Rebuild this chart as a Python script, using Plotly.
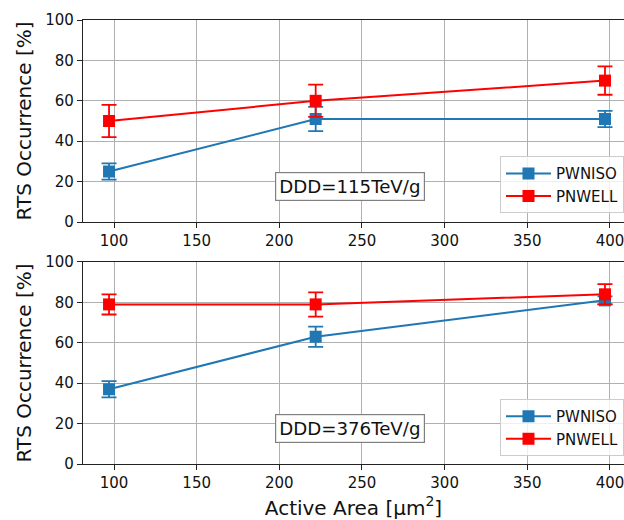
import plotly.graph_objects as go
from plotly.subplots import make_subplots

# ---- data ----
area = [97, 222, 397]
top_pwniso = [25, 51, 51]
top_pwniso_err = [4, 6, 4]
top_pnwell = [50, 60, 70]
top_pnwell_err = [8, 8, 7]
bot_pwniso = [37, 63, 81]
bot_pwniso_err = [4, 5, 2]
bot_pnwell = [79, 79, 84]
bot_pnwell_err = [5, 6, 5]
x_ticks = [100, 150, 200, 250, 300, 350, 400]
y_ticks = [0, 20, 40, 60, 80, 100]
labels = ["DDD=115TeV/g", "DDD=376TeV/g"]

BLUE = "#1f77b4"
RED = "#ff0000"
FONT = "DejaVu Sans"

fig = make_subplots(rows=2, cols=1, vertical_spacing=0.09)

def add(row, y, err, name, color, legend, show):
    fig.add_trace(go.Scatter(
        x=area, y=y, mode="lines+markers", name=name,
        line=dict(color=color, width=2),
        marker=dict(symbol="square", size=12, color=color),
        error_y=dict(type="data", array=err, visible=True, color=color,
                     thickness=1.8, width=7.5),
        legend=legend, showlegend=show,
    ), row=row, col=1)

add(1, top_pwniso, top_pwniso_err, "PWNISO", BLUE, "legend", True)
add(1, top_pnwell, top_pnwell_err, "PNWELL", RED, "legend", True)
add(2, bot_pwniso, bot_pwniso_err, "PWNISO", BLUE, "legend2", True)
add(2, bot_pnwell, bot_pnwell_err, "PNWELL", RED, "legend2", True)

axis_common = dict(showline=True, linecolor="#222222", linewidth=1.2,
                   ticks="outside", ticklen=5, tickwidth=1.2, tickcolor="#222222",
                   showgrid=True, gridcolor="#b0b0b0", gridwidth=1,
                   zeroline=False, ticklabeloverflow="allow",
                   tickfont=dict(family=FONT, size=15, color="#111111"))

for r in (1, 2):
    fig.update_xaxes(range=[81.25, 408.5], tickvals=x_ticks, mirror=True,
                     **axis_common, row=r, col=1)
    fig.update_yaxes(range=[0, 100], tickvals=y_ticks, mirror=False,
                     title=dict(text="RTS Occurrence [%]", standoff=8,
                                font=dict(family=FONT, size=20, color="#111111")),
                     **axis_common, row=r, col=1)

fig.update_xaxes(title=dict(text="Active Area [μm<sup>2</sup>]", standoff=9,
                            font=dict(family=FONT, size=20, color="#111111")),
                 row=2, col=1)

legend_style = dict(x=1, xanchor="right", yanchor="bottom",
                    bgcolor="rgba(255,255,255,0.8)", bordercolor="#cccccc", borderwidth=1,
                    font=dict(family=FONT, size=15), tracegroupgap=0, itemwidth=45)

fig.update_layout(
    width=624, height=520,
    margin=dict(l=83, r=0, t=20, b=56),
    plot_bgcolor="white", paper_bgcolor="white",
    font=dict(family=FONT, size=15, color="#111111"),
    legend=dict(y=0.565, **legend_style),
    legend2=dict(y=0.018, **legend_style),
)
fig.update_yaxes(domain=[0.545, 1.0], row=1, col=1)
fig.update_yaxes(domain=[0.0, 0.455], row=2, col=1)

for i, (txt, ref) in enumerate(zip(labels, ["x domain", "x2 domain"])):
    fig.add_annotation(text=txt, xref=ref, yref=("y domain" if i == 0 else "y2 domain"),
                       x=0.494, y=0.175, xanchor="center", yanchor="middle", showarrow=False,
                       font=dict(family=FONT, size=18.2, color="#111111"),
                       bgcolor="white", bordercolor="#808080", borderwidth=1.2, borderpad=3)

fig.write_html("out.html")
